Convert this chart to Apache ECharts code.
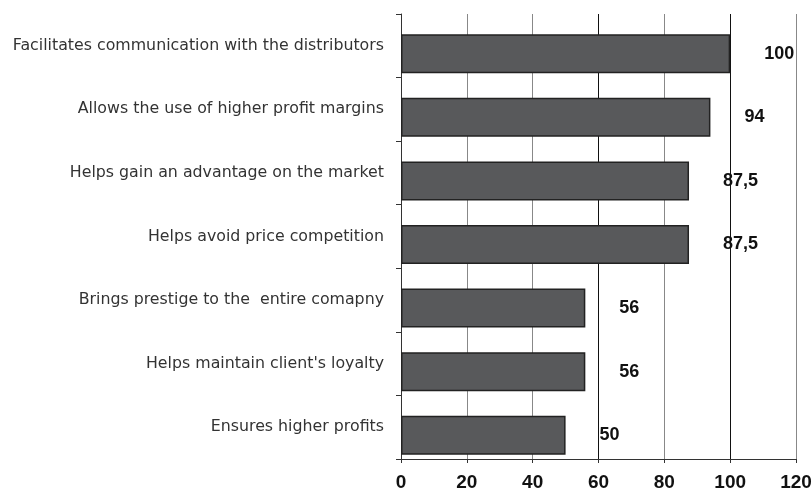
<!DOCTYPE html>
<html>
<head>
<meta charset="utf-8">
<script src="https://cdn.jsdelivr.net/npm/echarts@6/dist/echarts.min.js"></script>
<style>
html,body{margin:0;padding:0;background:#fff}
#main{width:812px;height:488px}
</style>
</head>
<body>
<div id="main"></div>
<script>
var categories = [
  'Facilitates communication with the distributors',
  'Allows the use of higher profit margins',
  'Helps gain an advantage on the market',
  'Helps avoid price competition',
  'Brings prestige to the  entire comapny',
  "Helps maintain client's loyalty",
  'Ensures higher profits'
];
var values = [100, 94, 87.5, 87.5, 56, 56, 50];
var xTicks = [0, 20, 40, 60, 80, 100, 120];
// empty spacer so the bars sit a little below the centre of each band
var spacer = [0, 0, 0, 0, 0, 0, 0];

var chart = echarts.init(document.getElementById('main'));
var option = {
  animation: false,
  grid: {left: 401, right: 16, top: 14, bottom: 29, outerBoundsMode: 'none'},
  xAxis: {
    type: 'value',
    min: xTicks[0],
    max: xTicks[xTicks.length - 1],
    interval: 20,
    axisLine: {show: true, lineStyle: {color: '#333', width: 1}},
    axisTick: {show: true, length: 4, lineStyle: {color: '#333'}},
    axisLabel: {
      margin: 14,
      color: '#111',
      fontFamily: 'Arial',
      fontWeight: 'bold',
      fontSize: 19
    },
    splitLine: {
      show: true,
      lineStyle: {color: ['#333', '#888', '#888', '#111', '#888', '#111', '#888'], width: 1}
    }
  },
  yAxis: {
    type: 'category',
    inverse: true,
    data: categories,
    axisLine: {show: true, lineStyle: {color: '#333', width: 1}},
    axisTick: {show: true, length: 5, lineStyle: {color: '#333'}},
    axisLabel: {
      margin: 17,
      color: '#333',
      fontFamily: 'DejaVu Sans',
      fontSize: 15.8
    }
  },
  series: [{
    type: 'bar',
    data: spacer,
    barWidth: 16,
    barGap: 0,
    silent: true,
    itemStyle: {color: 'rgba(0,0,0,0)'}
  }, {
    type: 'bar',
    data: values,
    barWidth: 39,
    barGap: 0,
    itemStyle: {color: '#58595b', borderColor: '#222', borderWidth: 1.5},
    label: {
      show: true,
      position: 'right',
      distance: 34,
      color: '#111',
      fontFamily: 'Arial',
      fontWeight: 'bold',
      fontSize: 18,
      formatter: function (p) { return String(p.value).replace('.', ','); }
    }
  }]
};
chart.setOption(option);
</script>
</body>
</html>
